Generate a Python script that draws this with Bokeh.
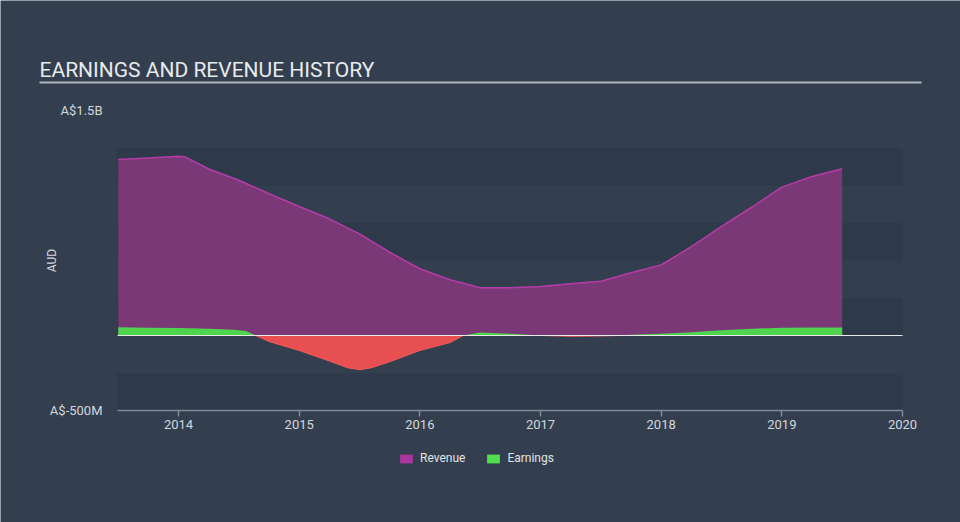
from math import pi
from bokeh.plotting import figure
from bokeh.models import (ColumnDataSource, FixedTicker, Range1d, BoxAnnotation, Label,
                          Legend, LegendItem)
from bokeh.embed import file_html
from bokeh.resources import INLINE

# ---------------- data (AUD millions) ----------------
rev_years = [2013.50, 2013.75, 2014.00, 2014.05, 2014.25, 2014.50, 2014.75, 2015.00, 2015.25,
             2015.50, 2015.75, 2016.00, 2016.25, 2016.50, 2016.75, 2017.00, 2017.25, 2017.50,
             2017.75, 2018.00, 2018.25, 2018.50, 2018.75, 2019.00, 2019.25, 2019.50]
revenue = [1173, 1184, 1195, 1192, 1110, 1035, 945, 860, 778,
           678, 555, 445, 372, 318, 318, 327, 345, 362,
           418, 470, 593, 727, 855, 989, 1060, 1111]

earn_years = [2013.50, 2013.75, 2014.00, 2014.25, 2014.46, 2014.56, 2014.64, 2014.75, 2015.00,
              2015.25, 2015.40, 2015.50, 2015.60, 2015.75, 2016.00, 2016.25, 2016.36, 2016.50,
              2016.75, 2017.00, 2017.25, 2017.50, 2017.65, 2017.75, 2018.00, 2018.25, 2018.50,
              2018.75, 2019.00, 2019.25, 2019.50]
earnings = [55, 52, 50, 45, 38, 30, 0, -40, -100,
            -170, -215, -228, -215, -175, -100, -47, 0, 20,
            12, 0, -5, -3, 0, 5, 12, 22, 35,
            45, 52, 53, 53]

x_ticks = [2014, 2015, 2016, 2017, 2018, 2019, 2020]
x_tick_labels = ["2014", "2015", "2016", "2017", "2018", "2019", "2020"]
y_ticks = [-500, 1500]
y_tick_labels = ["A$-500M", "A$1.5B"]
series_names = ["Revenue", "Earnings"]
series_colors = ["#a8369e", "#4fe04c"]
title_text = "EARNINGS AND REVENUE HISTORY"
y_axis_title = "AUD"

# ---------------- layout constants (pixels, from top-left) ----------------
W, H = 960, 522
PLOT_L, PLOT_R, PLOT_T, PLOT_B = 117, 902, 110, 410     # chart area
X_START, X_END = 2013.494, 2020.0                        # chart area x extent
Y_START, Y_END = -500, 1500                              # chart area y extent
TITLE_X, TITLE_BASE, RULE_Y, RULE_R = 39, 69, 82, 921
AUD_X = 51
LEG_X, LEG_BOTTOM = 398, 465

ppx = (PLOT_R - PLOT_L) / (X_END - X_START)
ppy = (PLOT_B - PLOT_T) / (Y_END - Y_START)
xr = Range1d(X_START - PLOT_L / ppx, X_END + (W - PLOT_R) / ppx)
yr = Range1d(Y_START - (H - PLOT_B) / ppy, Y_END + PLOT_T / ppy)

BG = "#333f4f"
BAND = "#2e3a4a"
TEXT = "#d3d7dc"

rev_src = ColumnDataSource(dict(x=rev_years, y=revenue, base=[0] * len(rev_years)))
earn_src = ColumnDataSource(dict(
    x=earn_years,
    pos=[max(v, 0) for v in earnings],
    neg=[min(v, 0) for v in earnings],
    base=[0] * len(earn_years),
))

p = figure(width=W, height=H, x_range=xr, y_range=yr,
           output_backend="svg", toolbar_location=None, min_border=0)
p.background_fill_color = BG
p.border_fill_color = BG
p.outline_line_color = None
p.xgrid.grid_line_color = None
p.ygrid.grid_line_color = None

# horizontal bands (every other 250M step)
for b in range(Y_START, Y_END, 500):
    p.add_layout(BoxAnnotation(left=X_START, right=X_END, bottom=b, top=b + 250,
                               fill_color=BAND, fill_alpha=1.0, line_color=None,
                               level="underlay"))

# revenue area
p.varea(x="x", y1="base", y2="y", source=rev_src, fill_color="#7b3876", fill_alpha=1.0)
p.line(x="x", y="y", source=rev_src, line_color="#b53ca8", line_width=1.5)

# earnings area
p.varea(x="x", y1="base", y2="pos", source=earn_src, fill_color="#4fd54d", fill_alpha=1.0)
p.varea(x="x", y1="base", y2="neg", source=earn_src, fill_color="#e84f50", fill_alpha=1.0)
p.line(x="x", y="neg", source=earn_src, line_color="#f25a5b", line_width=1)

# zero line across the chart area
p.segment(x0=[X_START], y0=[0], x1=[X_END], y1=[0], line_color="#e8e8e8", line_width=1)

# x axis, fixed at the bottom of the chart area
p.xaxis.fixed_location = Y_START
p.xaxis.ticker = FixedTicker(ticks=x_ticks)
p.xaxis.bounds = (X_START, X_END)
p.xaxis.major_label_overrides = dict(zip(x_ticks, x_tick_labels))
p.xaxis.axis_line_color = "#7f8a96"
p.xaxis.axis_line_width = 1.5
p.xaxis.major_tick_line_color = "#7f8a96"
p.xaxis.major_tick_line_width = 1.5
p.xaxis.major_tick_out = 6
p.xaxis.major_tick_in = 0
p.xaxis.minor_tick_line_color = None
p.xaxis.major_label_standoff = 3
p.xaxis.major_label_text_color = TEXT
p.xaxis.major_label_text_font = "Roboto"
p.xaxis.major_label_text_font_size = "13px"

# y axis, fixed at the left of the chart area
p.yaxis.fixed_location = X_START
p.yaxis.ticker = FixedTicker(ticks=y_ticks)
p.yaxis.bounds = (Y_START, Y_END)
p.yaxis.major_label_overrides = dict(zip(y_ticks, y_tick_labels))
p.yaxis.axis_line_color = None
p.yaxis.major_tick_line_color = None
p.yaxis.minor_tick_line_color = None
p.yaxis.major_tick_out = 0
p.yaxis.major_tick_in = 0
p.yaxis.major_label_standoff = 15
p.yaxis.major_label_text_color = TEXT
p.yaxis.major_label_text_font = "Roboto"
p.yaxis.major_label_text_font_size = "13px"

# y axis title
p.add_layout(Label(x=AUD_X, y=H - (PLOT_T + PLOT_B) / 2, x_units="screen", y_units="screen",
                   text=y_axis_title, angle=pi / 2, text_align="center",
                   text_baseline="middle", text_color=TEXT, text_font="Roboto",
                   text_font_size="12px"))

# chart title and underline
p.add_layout(Label(x=TITLE_X, y=H - TITLE_BASE, x_units="screen", y_units="screen",
                   text=title_text, text_align="left", text_baseline="alphabetic",
                   text_color="#e9eaec", text_font="Roboto", text_font_size="21px"))
p.add_layout(BoxAnnotation(left=TITLE_X, right=RULE_R,
                           bottom=H - RULE_Y - 1, top=H - RULE_Y + 1,
                           left_units="screen", right_units="screen",
                           bottom_units="screen", top_units="screen",
                           fill_color="#b3b7bc", fill_alpha=1.0, line_color=None))

# legend: zero-height proxy areas carry the legend colours
r_rev = p.varea(x="x", y1="base", y2="base", source=rev_src, fill_color=series_colors[0])
r_earn = p.varea(x="x", y1="base", y2="base", source=earn_src, fill_color=series_colors[1])
legend = Legend(items=[LegendItem(label=series_names[0], renderers=[r_rev]),
                       LegendItem(label=series_names[1], renderers=[r_earn])],
                location=(LEG_X, H - LEG_BOTTOM), orientation="horizontal",
                glyph_width=16, glyph_height=11, label_height=12, label_standoff=6,
                spacing=20, padding=5, margin=0,
                label_text_color="#e0e3e6", label_text_font="Roboto",
                label_text_font_size="12px",
                background_fill_alpha=0, border_line_color=None)
p.add_layout(legend, "center")

open("out.html", "w").write(file_html(p, INLINE))
